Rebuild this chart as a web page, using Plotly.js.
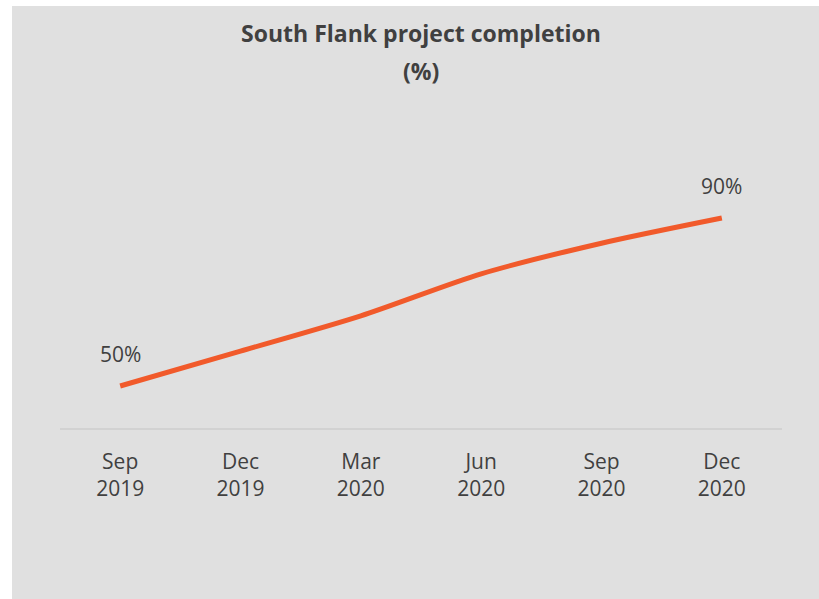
<!DOCTYPE html>
<html>
<head>
<meta charset="utf-8">
<script src="https://cdn.plot.ly/plotly-3.0.1.min.js"></script>
<style>
html,body{margin:0;padding:0;background:#ffffff;width:819px;height:599px;overflow:hidden;}
#chart{position:absolute;left:12px;top:6px;width:807px;height:593px;}
</style>
</head>
<body>
<div id="chart"></div>
<script>
const categories = ["Sep<br>2019","Dec<br>2019","Mar<br>2020","Jun<br>2020","Sep<br>2020","Dec<br>2020"];
const completion = [50, 58.3, 66.7, 76.7, 84, 90];
const labelIdx = [0, 5];
const labelText = ["50%", "90%"];
const titleLine1 = "South Flank project completion";
const titleLine2 = "(%)";

const FONT = "Open Sans, sans-serif";
const TXT = "#404040";

const trace = {
  type: "scatter",
  mode: "lines",
  x: categories,
  y: completion,
  line: {color: "#f15a2b", width: 5, shape: "spline", smoothing: 0.8},
  hoverinfo: "skip"
};

const H = 593, MT = 170, MB = 171;
const plotH = H - MT - MB;
// convert a pixel y (from top of chart div) into paper coordinates
const paperY = py => (H - MB - py) / plotH;

const annotations = labelIdx.map((i, k) => ({
  x: categories[i], y: completion[i], xref: "x", yref: "y",
  text: labelText[k], showarrow: false, yshift: 32,
  font: {family: FONT, size: 21, color: TXT}
}));
annotations.push({
  x: 0.5, xref: "paper", y: paperY(65), yref: "paper",
  xanchor: "center", yanchor: "middle", showarrow: false,
  text: "<b>" + titleLine2 + "</b>",
  font: {family: FONT, size: 23, color: TXT}
});

const layout = {
  width: 807, height: H,
  paper_bgcolor: "#e0e0e0", plot_bgcolor: "#e0e0e0",
  margin: {l: 48, r: 37, t: MT, b: MB},
  showlegend: false,
  title: {
    text: "<b>" + titleLine1 + "</b>",
    x: 0.5, xref: "paper", xanchor: "center",
    y: 1 - 28/H, yref: "container", yanchor: "middle",
    font: {family: FONT, size: 23, color: TXT}
  },
  xaxis: {
    type: "category",
    range: [-0.5, 5.5],
    showline: true, linecolor: "#d2d2d2", linewidth: 1.5,
    showgrid: false, zeroline: false, ticks: "",
    ticklabelstandoff: 14,
    tickfont: {family: FONT, size: 21, color: TXT}
  },
  yaxis: {
    range: [40, 100],
    showline: false, showgrid: false, zeroline: false,
    showticklabels: false, ticks: ""
  },
  annotations: annotations
};

Plotly.newPlot("chart", [trace], layout, {displayModeBar: false, staticPlot: true});
</script>
</body>
</html>
